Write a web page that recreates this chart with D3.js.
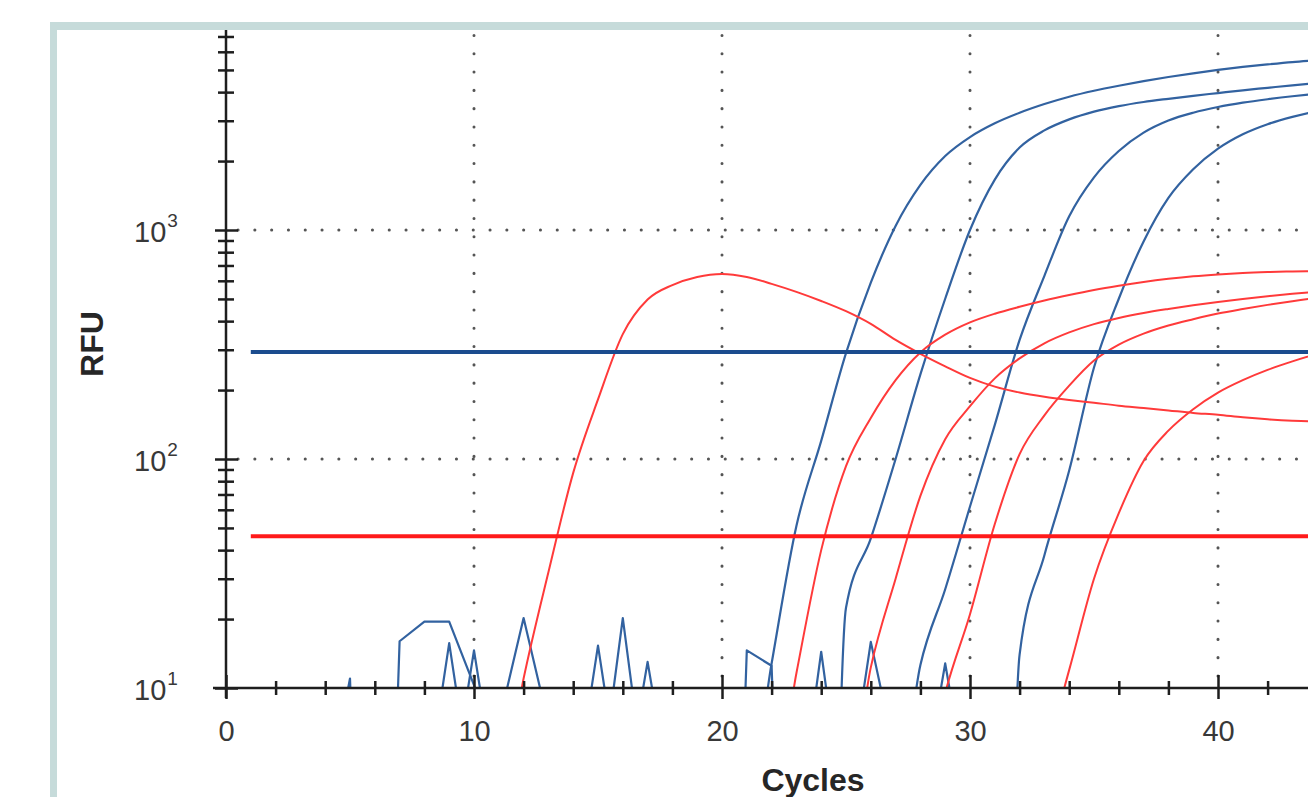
<!DOCTYPE html>
<html>
<head>
<meta charset="utf-8">
<script src="https://cdn.jsdelivr.net/npm/d3@7/dist/d3.min.js"></script>
<style>
    html, body { margin: 0; padding: 0; background: #ffffff; }
    svg { display: block; }
    text { font-family: Arial, "Liberation Sans", sans-serif; }
</style>
</head>
<body>
<div id="chart"></div>
<script>
// Amplification plot (RFU vs cycles, log scale)
const cycles = d3.range(1, 46);

// Blue channel wells
const blue1 = [3,3,3,3,3,3,3,3,3,3,3,3,3,3,3,3,3,3,3,3,3,12.8,51,120,290,589,1042,1574,2104,2546,2924,3251,3548,3819,4055,4266,4467,4656,4831,5000,5152,5284,5408,5508,5598];
const blue2 = [3,3,3,3,3,3,3,3,3,3,3,3,3,3,3,3,3,3,3,3,3,3,3,0.01,22.4,45,100,234,501,1000,1660,2291,2723,3041,3289,3475,3622,3741,3855,3963,4074,4178,4285,4385,4477];
const blue3 = [3,3,3,3,3,3,3,3,3,3,3,3,3,3,3,3,3,3,3,3,3,3,3,3,3,3,3,12.6,27,62,141,331,631,1148,1698,2213,2661,3006,3251,3443,3597,3724,3837,3936,4027];
const blue4 = [3,3,3,3,3,3,3,3,3,3,3,3,3,3,3,3,3,3,3,3,3,3,3,3,3,3,3,3,3,3,0.01,14,38,89,251,501,891,1380,1841,2265,2618,2897,3119,3311,3483];
// Blue negatives (baseline noise)
const blueNeg1 = [3,3,3,3,11,0.01,16,19.5,19.5,10.3,3,3,3,3,15.3,3,3,3,3,0.01,14.6,12.5,0.01,3,3,3,3,3,3,3,3,3,3,3,3,3,3,3,3,3,3,3,3,3,3];
const blueNeg2 = [3,3,3,3,3,3,3,3,15.7,3,7,20.2,7,3,3,20.2,3,3,3,3,3,3,2.3,14.4,2.3,3,3,3,12.8,3,3,3,3,3,3,3,3,3,3,3,3,3,3,3,3];
const blueNeg3 = [3,3,3,3,3,3,3,3,3,14.6,3,3,3,3,3,3,13,3,3,3,3,3,3,3,3,15.9,5,3,3,3,3,3,3,3,3,3,3,3,3,3,3,3,3,3,3];

// Red channel wells
const red0 = [3,3,3,3,3,3,3,3,3,3,3,11,32,87,182,351,497,575,624,643,624,582,537,490,442,389,331,288,254,226,207,195,187,181,176,171,167,163,159,156,152,149,147,146,146];
const red1 = [3,3,3,3,3,3,3,3,3,3,3,3,3,3,3,3,3,3,3,3,3,3,11.6,40,93,151,221,292,349,395,431,462,492,520,547,571,593,612,628,640,649,655,659,662,665];
const red2 = [3,3,3,3,3,3,3,3,3,3,3,3,3,3,3,3,3,3,3,3,3,3,3,3,3,12.3,30,69,122,170,225,275,320,357,388,413,434,452,469,485,500,514,527,538,548];
const red3 = [3,3,3,3,3,3,3,3,3,3,3,3,3,3,3,3,3,3,3,3,3,3,3,3,3,3,3,3,9.5,21,52,105,155,209,269,316,353,383,408,432,452,471,489,506,521];
const red4 = [3,3,3,3,3,3,3,3,3,3,3,3,3,3,3,3,3,3,3,3,3,3,3,3,3,3,3,3,3,3,3,3,5,12,30,58,98,133,165,195,221,245,267,288,308];

// Thresholds
const blueThreshold = 293;
const redThreshold = 46;

// Axis ticks
const xTicks = d3.range(0, 46, 2);
const xLabels = [0, 10, 20, 30, 40];
const yDecades = [10, 100, 1000];
const yExponents = [1, 2, 3];

const blueNoise = [blueNeg1, blueNeg2, blueNeg3];
const blueSeries = [blue1, blue2, blue3, blue4];
const redSeries = [red0, red1, red2, red3, red4];

const colors = {
    blue: '#3262a0',
    red: '#ff3a3a',
    blueThr: '#1b4c8e',
    redThr: '#ff1a1a',
    grid: '#555555',
    axis: '#1e1e1e',
    label: '#383838',
    frame: '#c6dbda'
};

const width = 1308;
const height = 797;

const svg = d3.select("#chart")
    .append("svg")
    .attr("width", width)
    .attr("height", height);

// Scales
const x = d3.scaleLinear().domain([0, 45]).range([226, 226 + 45 * 24.8]);
const y = d3.scaleLog().domain([10, 10000]).range([688, 1]);

svg.append("defs").append("clipPath")
    .attr("id", "plot-clip")
    .append("rect")
    .attr("x", x(0))
    .attr("y", 0)
    .attr("width", x(45) - x(0))
    .attr("height", y(10));

// Grid
const grid = svg.append("g");
grid.selectAll(".vgrid")
    .data([10, 20, 30, 40])
    .enter().append("line")
    .attr("x1", d => x(d)).attr("x2", d => x(d))
    .attr("y1", y(10) - 12).attr("y2", 0)
    .attr("stroke", colors.grid)
    .attr("stroke-width", 3)
    .attr("stroke-linecap", "round")
    .attr("stroke-dasharray", "0.1,18.2");

grid.selectAll(".hgrid")
    .data([100, 1000])
    .enter().append("line")
    .attr("x1", x(0) + 12).attr("x2", width)
    .attr("y1", d => y(d)).attr("y2", d => y(d))
    .attr("stroke", colors.grid)
    .attr("stroke-width", 3)
    .attr("stroke-linecap", "round")
    .attr("stroke-dasharray", "0.1,16.7");

// Curves: baseline noise straight, amplification curves smoothed
const noiseLine = d3.line()
    .x((d, i) => x(cycles[i]))
    .y(d => y(d));

const ampLine = d3.line()
    .x((d, i) => x(cycles[i]))
    .y(d => y(d))
    .curve(d3.curveMonotoneX);

const curves = svg.append("g").attr("clip-path", "url(#plot-clip)");

curves.selectAll(".noise")
    .data(blueNoise)
    .enter().append("path")
    .attr("d", noiseLine)
    .attr("fill", "none")
    .attr("stroke", colors.blue)
    .attr("stroke-width", 2.2)
    .attr("stroke-linejoin", "round");

curves.selectAll(".blue")
    .data(blueSeries)
    .enter().append("path")
    .attr("d", ampLine)
    .attr("fill", "none")
    .attr("stroke", colors.blue)
    .attr("stroke-width", 2.2);

curves.selectAll(".red")
    .data(redSeries)
    .enter().append("path")
    .attr("d", ampLine)
    .attr("fill", "none")
    .attr("stroke", colors.red)
    .attr("stroke-width", 2);

// Threshold lines
svg.append("line")
    .attr("x1", x(1)).attr("x2", x(45))
    .attr("y1", y(blueThreshold)).attr("y2", y(blueThreshold))
    .attr("stroke", colors.blueThr)
    .attr("stroke-width", 4);

svg.append("line")
    .attr("x1", x(1)).attr("x2", x(45))
    .attr("y1", y(redThreshold)).attr("y2", y(redThreshold))
    .attr("stroke", colors.redThr)
    .attr("stroke-width", 4);

// X axis
const xAxis = svg.append("g")
    .attr("transform", `translate(0,${y(10)})`)
    .call(d3.axisBottom(x)
        .tickValues(xTicks)
        .tickFormat(d => xLabels.includes(d) ? d : "")
        .tickSizeOuter(0));

xAxis.select(".domain").remove();
xAxis.selectAll(".tick line")
    .attr("stroke", colors.axis)
    .attr("stroke-width", 2.5)
    .attr("y1", d => d % 10 === 0 ? -13 : -7)
    .attr("y2", d => d % 10 === 0 ? 11 : 7);
xAxis.selectAll(".tick text")
    .attr("y", 53)
    .attr("dy", null)
    .attr("fill", colors.label)
    .attr("font-size", "29px")
    .attr("font-family", "Arial, 'Liberation Sans', sans-serif");

svg.append("line")
    .attr("x1", x(0) - 13).attr("x2", width)
    .attr("y1", y(10)).attr("y2", y(10))
    .attr("stroke", colors.axis)
    .attr("stroke-width", 2.5);

// Y axis (log, minor ticks at 2..9)
const yTickValues = [];
yDecades.forEach(dec => {
    for (let k = 1; k <= 9; k++) yTickValues.push(dec * k);
});

const yAxis = svg.append("g")
    .attr("transform", `translate(${x(0)},0)`)
    .call(d3.axisLeft(y)
        .tickValues(yTickValues)
        .tickFormat("")
        .tickSizeOuter(0));

yAxis.select(".domain").remove();
yAxis.selectAll(".tick line")
    .attr("stroke", colors.axis)
    .attr("stroke-width", 2.5)
    .attr("x1", d => yDecades.includes(d) ? -11 : -8)
    .attr("x2", d => yDecades.includes(d) ? 12 : 8);

svg.append("line")
    .attr("x1", x(0)).attr("x2", x(0))
    .attr("y1", y(10) + 10).attr("y2", 0)
    .attr("stroke", colors.axis)
    .attr("stroke-width", 2.5);

// Decade labels with superscript exponent
const yLabels = svg.append("g");
yDecades.forEach((dec, i) => {
    const t = yLabels.append("text")
        .attr("x", 134)
        .attr("y", y(dec) + 12)
        .attr("fill", colors.label)
        .attr("font-size", "29px")
        .text("10");
    t.append("tspan")
        .attr("dx", 1)
        .attr("dy", -15)
        .attr("font-size", "19px")
        .text(yExponents[i]);
});

// Axis titles
svg.append("text")
    .attr("transform", "translate(103,344) rotate(-90)")
    .attr("text-anchor", "middle")
    .attr("font-size", "32px")
    .attr("font-weight", "bold")
    .attr("fill", "#262626")
    .text("RFU");

svg.append("text")
    .attr("x", 813)
    .attr("y", 791)
    .attr("text-anchor", "middle")
    .attr("font-size", "32px")
    .attr("font-weight", "bold")
    .attr("fill", "#262626")
    .text("Cycles");

// Outer frame (screenshot border)
svg.append("rect")
    .attr("x", 0).attr("y", 0)
    .attr("width", width).attr("height", 22)
    .attr("fill", "#ffffff");
svg.append("rect")
    .attr("x", 0).attr("y", 0)
    .attr("width", 50).attr("height", height)
    .attr("fill", "#ffffff");
svg.append("rect")
    .attr("x", 50).attr("y", 22)
    .attr("width", width - 50).attr("height", 8)
    .attr("fill", colors.frame);
svg.append("rect")
    .attr("x", 50).attr("y", 22)
    .attr("width", 7).attr("height", height - 22)
    .attr("fill", colors.frame);
</script>
</body>
</html>
